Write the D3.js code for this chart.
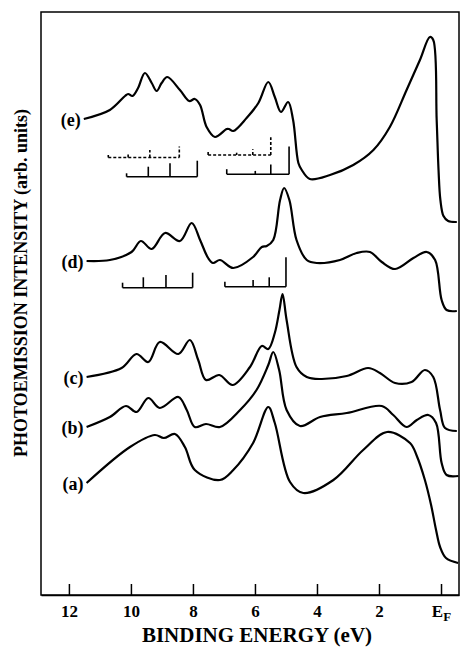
<!DOCTYPE html>
<html>
<head>
<meta charset="utf-8">
<script src="https://cdn.jsdelivr.net/npm/d3@7"></script>
<style>
  body { margin: 0; background: #fff; }
  text { font-family: "Liberation Serif", "Times New Roman", serif; font-weight: bold; fill: #000; }
</style>
</head>
<body>
<script>
// binding energy (eV) and intensity (arb. units)
const energyA = [11.43, 10.03, 9.23, 8.94, 8.58, 8.26, 7.94, 7.13, 6.70, 6.06, 5.57, 5.36, 4.87, 4.44, 3.47, 2.51, 1.74, 1.00, 0.78, 0.52, 0.32, 0.16, 0.03, -0.16, -0.55];
const intensityA = [112, 148, 160, 157, 161, 148, 125, 115, 125, 152, 188, 172, 113, 102, 115, 145, 163, 152, 139, 115, 90, 65, 48, 37, 32];

const energyB = [11.43, 10.68, 10.16, 9.82, 9.44, 9.07, 8.47, 8.20, 7.94, 7.58, 7.13, 6.48, 5.95, 5.57, 5.41, 5.22, 4.98, 4.55, 3.90, 3.04, 1.91, 1.54, 1.11, 0.78, 0.41, 0.16, -0.02, -0.18, -0.56];
const intensityB = [168, 178, 189, 183, 197, 187, 198, 185, 168, 171, 168, 185, 205, 230, 243, 225, 185, 169, 178, 182, 189, 180, 168, 175, 180, 172, 132, 120, 119];

const energyC = [11.43, 10.30, 9.82, 9.44, 9.07, 8.47, 8.10, 7.83, 7.58, 7.15, 6.72, 6.16, 5.78, 5.57, 5.36, 5.21, 5.11, 4.98, 4.66, 4.33, 3.90, 3.04, 2.35, 1.97, 1.48, 0.95, 0.52, 0.25, 0.03, -0.13, -0.51];
const intensityC = [218, 227, 241, 233, 253, 241, 255, 235, 215, 220, 210, 228, 249, 246, 262, 285, 301, 275, 228, 218, 216, 219, 227, 222, 212, 213, 225, 218, 185, 167, 164];

const energyD = [11.43, 10.68, 9.98, 9.68, 9.33, 8.90, 8.42, 8.04, 7.77, 7.51, 7.35, 7.13, 6.70, 6.06, 5.78, 5.62, 5.41, 5.19, 5.06, 4.89, 4.66, 4.33, 4.01, 3.26, 2.72, 2.29, 1.91, 1.48, 0.89, 0.46, 0.19, -0.02, -0.18, -0.51];
const intensityD = [334, 335, 343, 354, 346, 362, 354, 372, 355, 337, 332, 335, 327, 338, 348, 349, 355, 395, 407, 395, 355, 335, 332, 335, 342, 343, 333, 326, 337, 343, 335, 295, 285, 284];

const energyE = [11.52, 10.68, 10.19, 10.09, 9.95, 9.77, 9.55, 9.33, 9.17, 9.01, 8.83, 8.42, 8.12, 7.94, 7.77, 7.56, 7.29, 6.91, 6.84, 6.70, 6.27, 5.89, 5.57, 5.36, 5.16, 4.93, 4.77, 4.60, 4.49, 4.23, 3.58, 2.83, 2.18, 1.65, 1.11, 0.68, 0.36, 0.25, 0.14, 0.08, 0.02, -0.08, -0.23, -0.51];
const intensityE = [476, 485, 499, 501, 499, 507, 522, 512, 504, 512, 518, 505, 494, 496, 490, 468, 458, 466, 466, 464, 477, 492, 513, 498, 483, 493, 475, 432, 425, 416, 420, 430, 445, 468, 505, 535, 558, 555, 475, 425, 395, 379, 374, 373];

const curveLabels = ['(a)', '(b)', '(c)', '(d)', '(e)'];

// calculated level positions (stick diagrams): energies, stick heights, baseline
const sticksE1 = [10.73, 10.09, 9.39, 8.44], heightsE1 = [2.5, 5, 7.5, 11], baseE1 = 437.5;   // dashed
const sticksE2 = [10.14, 9.44, 8.74, 7.86], heightsE2 = [3.4, 10, 13.4, 16], baseE2 = 418.3;
const sticksE3 = [7.51, 6.59, 6.07, 5.49], heightsE3 = [3.3, 2.3, 5.7, 17.7], baseE3 = 440;    // dashed
const sticksE4 = [6.91, 5.99, 5.49, 4.90], heightsE4 = [5, 3.3, 9.7, 27.7], baseE4 = 420.8;
const sticksD1 = [10.27, 9.60, 8.87, 8.01], heightsD1 = [5, 10.4, 12.7, 15], baseD1 = 307.3;
const sticksD2 = [6.97, 6.06, 5.54, 5.00], heightsD2 = [5, 6.7, 9.4, 29.4], baseD2 = 308.3;

const tickValues = [12, 10, 8, 6, 4, 2, 0];

const width = 461, height = 647;

const svg = d3.select('body').append('svg')
  .attr('width', width)
  .attr('height', height);

const x = d3.scaleLinear().domain([12.9, -0.58]).range([41, 459]);
const y = d3.scaleLinear().domain([0, 583]).range([595, 12]);

// frame
svg.append('rect')
  .attr('x', x.range()[0])
  .attr('y', y.range()[1])
  .attr('width', x.range()[1] - x.range()[0])
  .attr('height', y.range()[0] - y.range()[1])
  .attr('fill', 'none')
  .attr('stroke', '#000')
  .attr('stroke-width', 1.5);

// bottom axis, ticks pointing inward
const xAxis = svg.append('g')
  .attr('transform', `translate(0,${y.range()[0]})`)
  .call(d3.axisBottom(x).tickValues(tickValues).tickSizeInner(-11).tickSizeOuter(0).tickPadding(10)
    .tickFormat(d => d === 0 ? '' : d));
xAxis.select('.domain').attr('stroke-width', 1.5);
xAxis.selectAll('.tick line').attr('stroke-width', 1.5);
xAxis.selectAll('.tick text')
  .style('font-size', '17px')
  .style('font-family', '"Liberation Serif", serif')
  .style('font-weight', 'bold');
xAxis.selectAll('.tick').filter(d => d === 0).select('text')
  .call(t => {
    t.append('tspan').text('E');
    t.append('tspan').text('F').attr('dy', '0.3em').style('font-size', '13px');
  });

svg.append('text')
  .attr('x', 257)
  .attr('y', 642)
  .attr('text-anchor', 'middle')
  .style('font-size', '21px')
  .text('BINDING ENERGY (eV)');

svg.append('text')
  .attr('transform', 'translate(27,283) rotate(-90)')
  .attr('text-anchor', 'middle')
  .style('font-size', '18px')
  .text('PHOTOEMISSION INTENSITY (arb. units)');

// spectra
const curves = [
  [energyA, intensityA], [energyB, intensityB], [energyC, intensityC],
  [energyD, intensityD], [energyE, intensityE]
];

const line = d3.line()
  .x(d => x(d[0]))
  .y(d => y(d[1]))
  .curve(d3.curveCatmullRom.alpha(0.5));

curves.forEach(([es, is], i) => {
  const pts = es.map((e, j) => [e, is[j]]);
  svg.append('path')
    .datum(pts)
    .attr('d', line)
    .attr('fill', 'none')
    .attr('stroke', '#000')
    .attr('stroke-width', 2.2)
    .attr('stroke-linejoin', 'round');

  svg.append('text')
    .attr('x', x(es[0]) - 3)
    .attr('y', y(is[0]) + 3)
    .attr('text-anchor', 'end')
    .attr('dominant-baseline', 'middle')
    .style('font-size', '18px')
    .text(curveLabels[i]);
});

// stick diagrams
const sticks = [
  [sticksE1, heightsE1, baseE1, true],
  [sticksE2, heightsE2, baseE2, false],
  [sticksE3, heightsE3, baseE3, true],
  [sticksE4, heightsE4, baseE4, false],
  [sticksD1, heightsD1, baseD1, false],
  [sticksD2, heightsD2, baseD2, false]
];

sticks.forEach(([es, hs, base, dashed]) => {
  const g = svg.append('g')
    .attr('stroke', '#000')
    .attr('stroke-width', 1.6)
    .attr('stroke-dasharray', dashed ? '3,2' : null);
  g.append('line')
    .attr('x1', x(d3.max(es)))
    .attr('x2', x(d3.min(es)))
    .attr('y1', y(base))
    .attr('y2', y(base));
  g.selectAll('.stick')
    .data(es.map((e, j) => [e, hs[j]]))
    .enter().append('line')
    .attr('class', 'stick')
    .attr('x1', d => x(d[0]))
    .attr('x2', d => x(d[0]))
    .attr('y1', y(base))
    .attr('y2', d => y(base + d[1]));
});
</script>
</body>
</html>
